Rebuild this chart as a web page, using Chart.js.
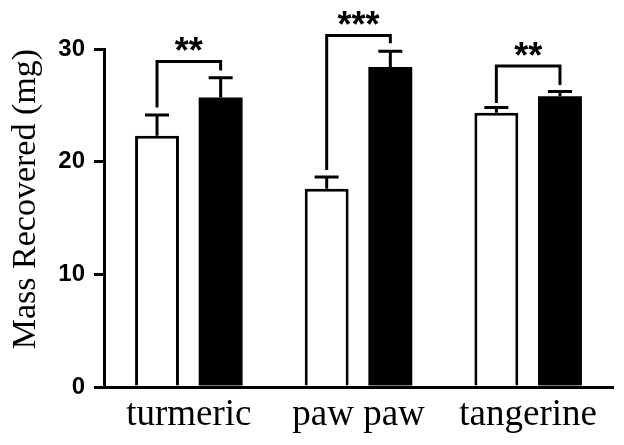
<!DOCTYPE html>
<html>
<head>
<meta charset="utf-8">
<script src="https://cdn.jsdelivr.net/npm/chart.js@4.4.1/dist/chart.umd.min.js"></script>
<style>
  html, body { margin: 0; padding: 0; background: #fff; }
  canvas { display: block; }
</style>
</head>
<body>
<canvas id="massChart" width="624" height="445"></canvas>
<script>
// values (mg)
const categories = ['turmeric', 'paw paw', 'tangerine'];
const openMeans = [22.3, 17.6, 24.35];
const openErr = [1.85, 1.05, 0.45];
const filledMeans = [25.7, 28.4, 25.8];
const filledErr = [1.75, 1.4, 0.42];
const yTicks = [0, 10, 20, 30];

// significance brackets: bar level, left leg end, right leg end, stars
const bracketLevel = [28.9, 31.2, 28.5];
const bracketLeftEnd = [24.8, 19.25, 25.2];
const bracketRightEnd = [28.1, 30.5, 26.8];
const stars = ['**', '***', '**'];

const errorData = [openErr, filledErr];

const annotations = {
    id: 'annotations',
    afterDatasetsDraw(chart) {
        const ctx = chart.ctx;
        const y = chart.scales.y;
        const metas = [chart.getDatasetMeta(0), chart.getDatasetMeta(1)];
        ctx.save();
        ctx.strokeStyle = '#000';
        ctx.lineWidth = 3;
        ctx.lineCap = 'butt';

        // error bars (upper only)
        metas.forEach((meta, d) => {
            meta.data.forEach((bar, i) => {
                const val = chart.data.datasets[d].data[i];
                const top = y.getPixelForValue(val + errorData[d][i]);
                ctx.beginPath();
                ctx.moveTo(bar.x, bar.y);
                ctx.lineTo(bar.x, top);
                ctx.moveTo(bar.x - 12, top);
                ctx.lineTo(bar.x + 12, top);
                ctx.stroke();
            });
        });

        // brackets and stars
        categories.forEach((c, i) => {
            const x1 = metas[0].data[i].x;
            const x2 = metas[1].data[i].x;
            const yl = y.getPixelForValue(bracketLevel[i]);
            ctx.beginPath();
            ctx.moveTo(x1, y.getPixelForValue(bracketLeftEnd[i]));
            ctx.lineTo(x1, yl);
            ctx.lineTo(x2, yl);
            ctx.lineTo(x2, y.getPixelForValue(bracketRightEnd[i]));
            ctx.stroke();

            ctx.fillStyle = '#000';
            ctx.font = 'bold 36px "Liberation Sans", Arial, sans-serif';
            ctx.textAlign = 'center';
            ctx.textBaseline = 'middle';
            ctx.fillText(stars[i], (x1 + x2) / 2, yl - 8);
        });
        ctx.restore();
    }
};

new Chart(document.getElementById('massChart'), {
    type: 'bar',
    data: {
        labels: categories,
        datasets: [{
            label: 'Group 1',
            data: openMeans,
            backgroundColor: '#fff',
            borderColor: '#000',
            borderWidth: 3,
            borderSkipped: 'start'
        }, {
            label: 'Group 2',
            data: filledMeans,
            backgroundColor: '#000',
            borderColor: '#000',
            borderWidth: 0
        }]
    },
    options: {
        responsive: false,
        animation: false,
        devicePixelRatio: 1,
        layout: { padding: { top: 49, right: 11, left: 0, bottom: 0 } },
        datasets: { bar: { categoryPercentage: 0.75, barPercentage: 0.69 } },
        plugins: {
            legend: { display: false },
            tooltip: { enabled: false }
        },
        scales: {
            x: {
                grid: { display: false, drawTicks: false },
                border: { color: '#000', width: 3 },
                ticks: {
                    color: '#000',
                    padding: 6,
                    font: { family: '"Liberation Serif", "Times New Roman", serif', size: 37 }
                },
                afterFit(scale) { scale.height = 58; }
            },
            y: {
                min: 0,
                max: 30,
                afterBuildTicks(scale) { scale.ticks = yTicks.map(v => ({ value: v })); },
                grid: { drawOnChartArea: false, drawTicks: true, tickLength: 10, color: '#000', lineWidth: 3 },
                border: { color: '#000', width: 3 },
                ticks: {
                    color: '#000',
                    padding: 9,
                    font: { family: '"Liberation Sans", Arial, sans-serif', size: 24, weight: 'bold' }
                },
                title: {
                    display: true,
                    text: 'Mass Recovered (mg)',
                    align: 'end',
                    color: '#000',
                    padding: { top: 6, bottom: 0 },
                    font: { family: '"Liberation Serif", "Times New Roman", serif', size: 34 }
                },
                afterFit(scale) { scale.width = 104; }
            }
        }
    },
    plugins: [annotations]
});
</script>
</body>
</html>
